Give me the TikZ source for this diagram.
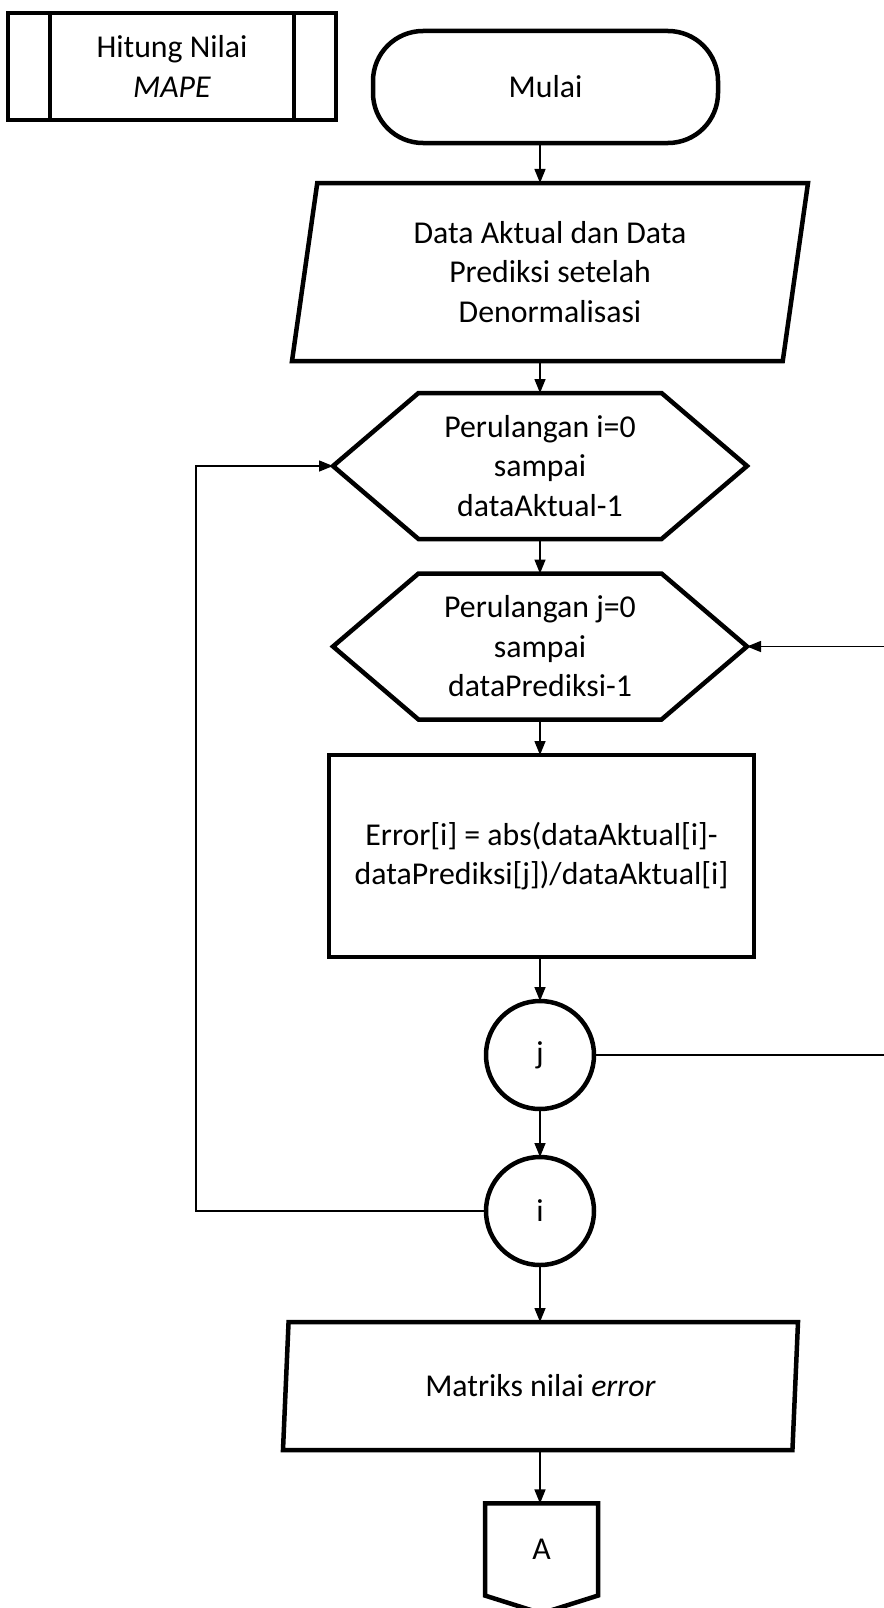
\documentclass[tikz,border=0pt]{standalone}
\usepackage{fontspec}
\setmainfont{Carlito}
\usetikzlibrary{arrows.meta,shapes.geometric,shapes.symbols}

\tikzset{
  proses/.style={draw, line width=4.5bp, inner sep=0pt, outer sep=0pt, align=center,
    font=\fontsize{31.8bp}{39.5bp}\selectfont},
  masukan/.style={proses, trapezium, trapezium left angle=76, trapezium right angle=104,
    trapezium stretches body},
  ulang/.style={proses, signal, signal to=west and east, signal pointer angle=81},
  titik/.style={proses, circle, minimum size=108bp},
  offpage/.style={proses, signal, signal to=south, signal pointer angle=145}
}

\begin{document}
\begin{tikzpicture}[>={Triangle[length=14bp,width=11bp]}, line width=1.5bp, x=1bp, y=-1bp]
\useasboundingbox (0,0) rectangle (883,1608);

\node[proses, minimum width=328bp, minimum height=107bp] (hitung) at (172,66.5) {Hitung Nilai\\\textit{MAPE}};
\draw[line width=4.5bp] ([xshift=42bp]hitung.north west) -- ([xshift=42bp]hitung.south west);
\draw[line width=4.5bp] ([xshift=-42bp]hitung.north east) -- ([xshift=-42bp]hitung.south east);

\node[proses, rounded corners=50bp, minimum width=345bp, minimum height=112bp] (mulai) at (545.5,87) {Mulai};
\node[masukan, minimum width=516bp, minimum height=178bp] (data) at (550,272) {Data Aktual dan Data\\Prediksi setelah\\Denormalisasi};
\node[ulang, minimum width=414bp, minimum height=146bp] (ulangi) at (540,466) {Perulangan i=0\\sampai\\dataAktual-1};
\node[ulang, minimum width=414bp, minimum height=146bp] (ulangj) at (540,646.5) {Perulangan j=0\\sampai\\dataPrediksi-1};
\node[proses, minimum width=425bp, minimum height=202bp] (hitungerror) at (541.5,856) {Error[i] = abs(dataAktual[i]-\\dataPrediksi[j])/dataAktual[i]};
\node[titik] (cj) at (540,1055) {j};
\node[titik] (ci) at (540,1211) {i};
\node[masukan, minimum width=515bp, minimum height=128bp] (matriks) at (540.5,1386) {Matriks nilai \textit{error}};
\node[offpage, minimum width=113bp, minimum height=95bp] (A) at (541.5,1549.5) {A};

\coordinate (sumbu) at (540,0);
\coordinate (kiri) at (196,0);
\coordinate (kanan) at (900,0);

\draw[->] (sumbu |- mulai.south) -- (sumbu |- data.north);
\draw[->] (sumbu |- data.south) -- (ulangi.north);
\draw[->] (ulangi.south) -- (ulangj.north);
\draw[->] (ulangj.south) -- (sumbu |- hitungerror.north);
\draw[->] (sumbu |- hitungerror.south) -- (cj.north);
\draw[->] (cj.south) -- (ci.north);
\draw[->] (ci.south) -- (sumbu |- matriks.north);
\draw[->] (sumbu |- matriks.south) -- (sumbu |- A.north);
\draw[->] (ci.west) -| (kiri |- ulangi.west) -- (ulangi.west);
\draw[->] (cj.east) -| (kanan |- ulangj.east) -- (ulangj.east);
\end{tikzpicture}
\end{document}
